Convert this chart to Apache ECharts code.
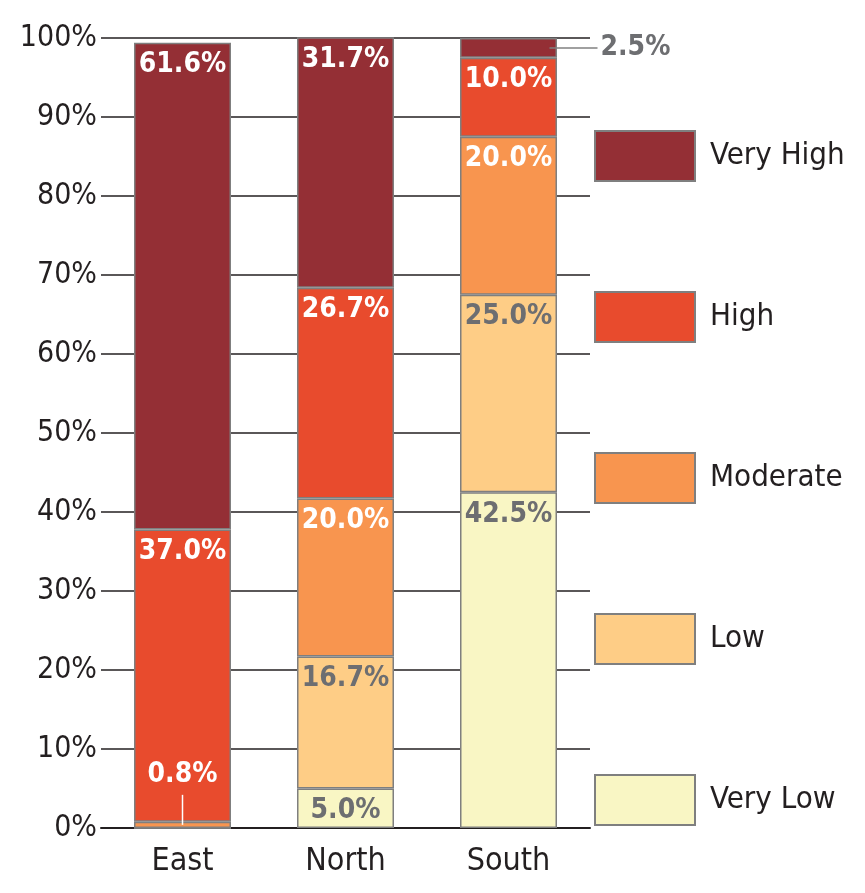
<!DOCTYPE html>
<html>
<head>
<meta charset="utf-8">
<script src="https://cdn.jsdelivr.net/npm/echarts@6/dist/echarts.min.js"></script>
<style>
  html, body { margin: 0; padding: 0; background: #fff; }
  #chart { width: 865px; height: 893px; }
</style>
</head>
<body>
<div id="chart"></div>
<script>
// Regions along the x axis
const regions = ['East', 'North', 'South'];

// Share of each risk class per region (%)
const veryLow  = [0,    5.0,  42.5];
const low      = [0,    16.7, 25.0];
const moderate = [0.8,  20.0, 20.0];
const high     = [37.0, 26.7, 10.0];
const veryHigh = [61.6, 31.7, 2.5];

// Y axis tick range
const yTicks = { min: 0, max: 100, step: 10 };

// Legend order (top to bottom)
const legendOrder = ['Very High', 'High', 'Moderate', 'Low', 'Very Low'];

const FONT = '"Liberation Sans Narrow", "DejaVu Sans Condensed", "Open Sans", sans-serif';
const DARK_TEXT = '#231f20';
const GREY_TEXT = '#6d6e71';

const classes = [
  { name: 'Very Low',  values: veryLow,  color: '#f9f6c4', text: GREY_TEXT },
  { name: 'Low',       values: low,      color: '#fecd86', text: GREY_TEXT },
  { name: 'Moderate',  values: moderate, color: '#f8954f', text: '#ffffff' },
  { name: 'High',      values: high,     color: '#e84b2d', text: '#ffffff' },
  { name: 'Very High', values: veryHigh, color: '#942f35', text: '#ffffff' }
];

// Segments too thin for an inside label get a callout with a leader line
const callouts = [
  { cls: 'Moderate',  region: 'East',  dir: 'up' },
  { cls: 'Very High', region: 'South', dir: 'right' }
];
const isCallout = (cls, ri) =>
  callouts.some(c => c.cls === cls && regions.indexOf(c.region) === ri);

const fmt = v => v.toFixed(1) + '%';

const barSeries = classes.map(c => ({
  name: c.name,
  type: 'bar',
  stack: 'total',
  barWidth: 97,
  itemStyle: { color: c.color, borderColor: '#7f7f7f', borderWidth: 1.5 },
  emphasis: { disabled: true },
  data: c.values.map((v, ri) => ({
    value: v,
    label: {
      show: v > 0 && !isCallout(c.name, ri),
      position: 'insideTop',
      distance: 8,
      formatter: fmt(v),
      color: c.text,
      fontFamily: FONT,
      fontWeight: 'bold',
      fontSize: 28
    }
  }))
}));

// Midpoint of each callout segment, from the stacked values
const calloutData = callouts.map(c => {
  const ri = regions.indexOf(c.region);
  const ci = classes.findIndex(k => k.name === c.cls);
  let base = 0;
  for (let k = 0; k < ci; k++) base += classes[k].values[ri];
  const v = classes[ci].values[ri];
  return { value: [ri, base + v / 2], text: fmt(v), dir: c.dir, color: classes[ci].text };
});

const calloutSeries = {
  type: 'custom',
  coordinateSystem: 'cartesian2d',
  z: 10,
  silent: true,
  data: calloutData.map(d => d.value),
  renderItem(params, api) {
    const d = calloutData[params.dataIndex];
    const p = api.coord([api.value(0), api.value(1)]);
    if (d.dir === 'up') {
      return {
        type: 'group',
        children: [
          { type: 'line', shape: { x1: p[0], y1: p[1], x2: p[0], y2: p[1] - 30 },
            style: { stroke: '#ffffff', lineWidth: 1.5 } },
          { type: 'text', x: p[0], y: p[1] - 36,
            style: { text: d.text, fill: '#ffffff', font: 'bold 28px ' + FONT,
                     align: 'center', verticalAlign: 'bottom' } }
        ]
      };
    }
    return {
      type: 'group',
      children: [
        { type: 'line', shape: { x1: p[0] + 41, y1: p[1], x2: p[0] + 89, y2: p[1] },
          style: { stroke: '#808080', lineWidth: 1.5 } },
        { type: 'text', x: p[0] + 92, y: p[1],
          style: { text: d.text, fill: GREY_TEXT, font: 'bold 28px ' + FONT,
                   align: 'left', verticalAlign: 'middle' } }
      ]
    };
  }
};

const chart = echarts.init(document.getElementById('chart'), null, { renderer: 'canvas' });
chart.setOption({
  animation: false,
  backgroundColor: '#ffffff',
  grid: { left: 101, right: 275, top: 38, bottom: 65, containLabel: false },
  legend: {
    data: legendOrder,
    orient: 'vertical',
    left: 589,
    top: 125,
    itemWidth: 100,
    itemHeight: 50,
    itemGap: 109,
    icon: 'rect',
    selectedMode: false,
    textStyle: { fontFamily: FONT, fontSize: 31, color: DARK_TEXT, padding: [0, 0, 0, 10] }
  },
  xAxis: {
    type: 'category',
    data: regions,
    axisLine: { show: true, lineStyle: { color: '#231f20', width: 2 } },
    axisTick: { show: false },
    axisLabel: { fontFamily: FONT, fontSize: 32, color: DARK_TEXT, margin: 18 }
  },
  yAxis: {
    type: 'value',
    min: yTicks.min,
    max: yTicks.max,
    interval: yTicks.step,
    axisLine: { show: false },
    axisTick: { show: false },
    axisLabel: { formatter: '{value}%', fontFamily: FONT, fontSize: 30, color: DARK_TEXT, margin: 4 },
    splitLine: { show: true, lineStyle: { color: '#231f20', width: 1.5 } }
  },
  series: [...barSeries, calloutSeries]
});
</script>
</body>
</html>
